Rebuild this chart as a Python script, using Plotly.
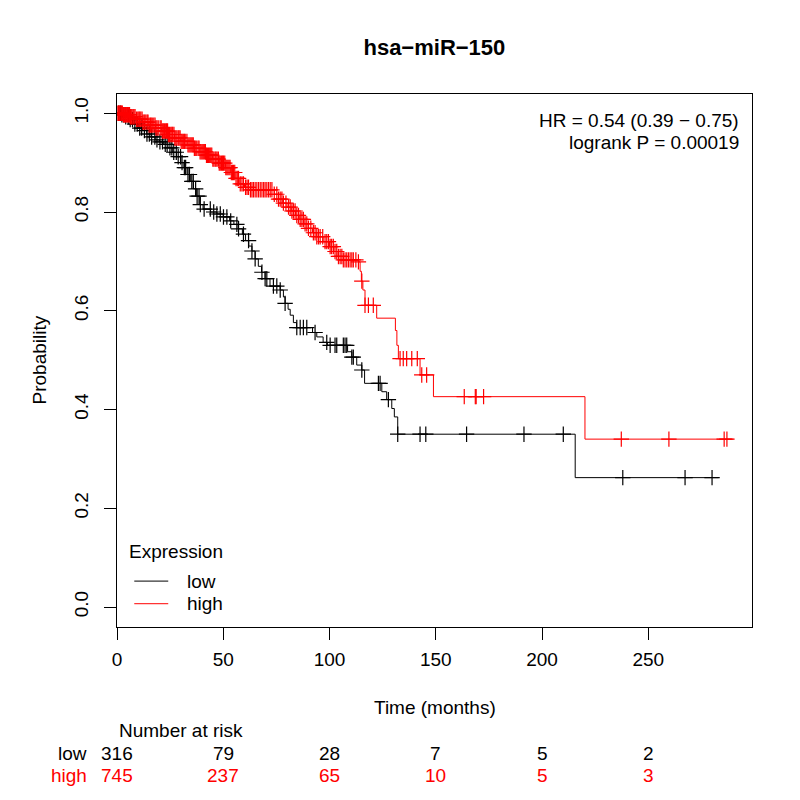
import numpy as np
import plotly.graph_objects as go

# ---------------- data ----------------
title_text = "hsa\u2212miR\u2212150"
groups = ["low", "high"]
colors = {"low": "black", "high": "red"}
legend_title = "Expression"

# step curve: event times (months) and survival after each step
low_times = [0, 2, 4, 6, 8, 10, 12, 14, 16, 18, 20, 22, 24, 26, 28, 30, 31.5, 33, 34.5, 36,
             37.5, 39, 40.5, 44, 47, 50, 53, 55, 57, 59, 60.5, 62, 63.5, 65, 66.5, 68, 69.7,
             72, 76.8, 78.3, 79.1, 80.5, 81.5, 83, 84.5, 92, 94, 97, 99, 108.5, 110.5, 112.8,
             115.2, 116.5, 124.6, 126.9, 129.3, 130.5, 132.1, 215.6]
low_surv = [1.0, 0.997, 0.993, 0.987, 0.978, 0.970, 0.965, 0.958, 0.952, 0.946, 0.942, 0.937,
            0.930, 0.921, 0.912, 0.900, 0.890, 0.876, 0.862, 0.847, 0.832, 0.815, 0.806, 0.800,
            0.796, 0.790, 0.782, 0.775, 0.766, 0.755, 0.742, 0.731, 0.721, 0.705, 0.690, 0.678,
            0.665, 0.650, 0.642, 0.628, 0.615, 0.603, 0.591, 0.576, 0.566, 0.556, 0.547, 0.536,
            0.530, 0.517, 0.506, 0.490, 0.480, 0.453, 0.436, 0.420, 0.402, 0.385, 0.350, 0.262]
low_end = 283.0
low_censor = [0.8, 1.6, 2.3, 3.2, 4.1, 5.3, 6.2, 7.3, 8.4, 9.5, 10.7, 11.6, 12.9, 14.1, 15.2,
              16.3, 17.8, 18.8, 20.2, 21.4, 22.7, 23.6, 24.9, 25.8, 26.7, 27.9, 28.8, 29.9,
              30.6, 31.7, 32.3, 33.4, 34.1, 35.2, 35.9, 37.0, 37.7, 38.6, 39.2, 41.0, 43.9,
              45.5, 47.0, 48.6, 50.1, 51.7, 53.5, 56.4, 57.2, 59.5, 61.9, 63.5, 65.0, 68.2,
              69.7, 70.5, 73.6, 75.2, 76.8, 79.1, 84.6, 86.2, 87.7, 89.3, 93.2, 98.7, 100.3,
              102.6, 103.4, 106.5, 107.3, 108.1, 110.5, 111.2, 115.2, 123.0, 123.8, 127.7,
              132.1, 142.6, 145.3, 164.5, 191.5, 210.0, 238.0, 267.3, 280.0]

high_times = [0, 3, 6, 9, 12, 15, 18, 21, 24, 27, 30, 33, 36, 39, 42, 45, 48, 51, 53.5, 55.5,
              57.5, 60, 62.7, 74, 76, 78, 80, 82, 84, 86, 88, 90, 92, 94, 97, 100, 102, 104,
              106.5, 113.6, 114.4, 115, 115.7, 116.7, 122.2, 131, 131.7, 132.4, 142.6, 148.9,
              220.2]
high_surv = [1.0, 0.997, 0.993, 0.988, 0.982, 0.976, 0.970, 0.964, 0.957, 0.950, 0.943, 0.936,
             0.929, 0.922, 0.915, 0.907, 0.899, 0.890, 0.880, 0.868, 0.857, 0.850, 0.845, 0.836,
             0.826, 0.818, 0.810, 0.802, 0.793, 0.785, 0.776, 0.767, 0.758, 0.750, 0.740, 0.730,
             0.720, 0.710, 0.703, 0.699, 0.680, 0.660, 0.642, 0.611, 0.585, 0.560, 0.530, 0.503,
             0.470, 0.426, 0.340]
high_end = 290.0
high_censor = [0.4, 0.8, 1.1, 1.5, 1.9, 2.2, 2.5, 3.0, 3.4, 3.7, 4.0, 4.4, 4.9, 5.2, 5.5, 5.9,
               6.3, 6.7, 7.1, 7.6, 8.0, 8.5, 9.2, 9.8, 10.3, 10.7, 11.2, 11.8, 12.2, 12.7, 13.1,
               13.6, 14.2, 14.6, 15.1, 15.7, 16.1, 16.6, 17.3, 17.9, 18.3, 18.8, 19.4, 20.3,
               20.8, 21.3, 21.8, 22.3, 22.9, 23.3, 23.8, 24.2, 24.7, 25.3, 25.8, 26.2, 26.8,
               27.2, 27.7, 28.2, 28.8, 29.2, 29.7, 30.2, 30.7, 31.2, 31.7, 32.1, 32.9, 33.4,
               33.9, 34.4, 34.9, 35.4, 35.9, 36.4, 36.8, 37.3, 38.1, 38.6, 39.1, 39.6, 40.1,
               40.6, 41.1, 41.6, 42.1, 42.6, 43.1, 43.6, 44.1, 44.6, 45.1, 45.6, 46.2, 46.6,
               47.1, 47.7, 48.1, 48.6, 49.2, 49.7, 50.1, 50.7, 51.2, 51.7, 52.2, 52.7, 53.2,
               53.8, 54.3, 54.8, 55.4, 56.0, 56.6, 57.2, 58.0, 58.8, 59.5, 60.5, 61.2, 61.9,
               62.8, 63.5, 64.2, 65.0, 65.8, 66.6, 67.4, 68.2, 69.0, 69.7, 70.5, 71.3, 72.1,
               72.9, 74.0, 75.2, 76.0, 76.8, 77.6, 78.3, 79.5, 80.7, 81.5, 82.3, 83.0, 83.8,
               84.6, 85.4, 86.2, 87.0, 87.7, 88.5, 89.3, 90.1, 91.2, 92.4, 93.2, 94.0, 94.8,
               95.6, 96.8, 97.9, 98.7, 99.5, 100.3, 101.0, 101.8, 102.6, 103.4, 104.2, 105.0,
               105.8, 106.5, 107.3, 108.1, 108.9, 109.7, 110.5, 111.2, 112.4, 113.6, 115.2,
               116.7, 118.3, 120.6, 133.2, 134.7, 136.3, 138.7, 141.3, 143.4, 145.7, 163.4,
               168.6, 169.0, 172.5, 237.3, 259.7, 285.7, 287.0]

risk_times = [0, 50, 100, 150, 200, 250]
risk_low = [316, 79, 28, 7, 5, 2]
risk_high = [745, 237, 65, 10, 5, 3]

hr_text = "HR = 0.54 (0.39 \u2212 0.75)"
p_text = "logrank P = 0.00019"

# ---------------- figure ----------------
FONT = "Liberation Sans, Arial, Helvetica, sans-serif"
fig = go.Figure()

series = {
    "low": (low_times, low_surv, low_end, low_censor),
    "high": (high_times, high_surv, high_end, high_censor),
}

for g in groups:
    times, surv, end, cens = series[g]
    xs = list(times) + [end]
    ys = list(surv) + [surv[-1]]
    fig.add_trace(go.Scatter(x=xs, y=ys, mode="lines", line=dict(color=colors[g], width=1, shape="hv"),
                             name=g, showlegend=False, hoverinfo="skip"))
    t_arr = np.array(times)
    s_arr = np.array(surv)
    c_arr = np.array(cens)
    idx = np.searchsorted(t_arr, c_arr, side="right") - 1
    fig.add_trace(go.Scatter(x=c_arr, y=s_arr[idx], mode="markers",
                             marker=dict(symbol="cross-thin", size=11,
                                         line=dict(color=colors[g], width=1.2), color=colors[g]),
                             showlegend=False, hoverinfo="skip"))

annotations = []
shapes = []
# HR text
annotations.append(dict(xref="paper", yref="paper", x=1, y=1, xshift=-11, yshift=-26,
                        xanchor="right", yanchor="middle", text=hr_text, showarrow=False,
                        font=dict(size=19, color="black", family=FONT)))
annotations.append(dict(xref="paper", yref="paper", x=1, y=1, xshift=-11, yshift=-48,
                        xanchor="right", yanchor="middle", text=p_text, showarrow=False,
                        font=dict(size=19, color="black", family=FONT)))
# axis titles
annotations.append(dict(xref="paper", yref="paper", x=0.5, y=0, yshift=-80,
                        xanchor="center", yanchor="middle", text="Time (months)", showarrow=False,
                        font=dict(size=19, color="black", family=FONT)))
annotations.append(dict(xref="paper", yref="paper", x=0, y=0.5, xshift=-78,
                        xanchor="center", yanchor="middle", text="Probability", showarrow=False,
                        textangle=-90, font=dict(size=19, color="black", family=FONT)))
# legend (drawn in the corner of the plot area)
annotations.append(dict(xref="paper", yref="paper", x=0.0162, y=0.1418, xanchor="left",
                        yanchor="middle", text=legend_title, showarrow=False,
                        font=dict(size=19, color="black", family=FONT)))
for g, ly in zip(groups, (0.0861, 0.0437)):
    shapes.append(dict(type="line", xref="paper", yref="paper", x0=0.0272, x1=0.0807, y0=ly, y1=ly,
                       line=dict(color=colors[g], width=1)))
    annotations.append(dict(xref="paper", yref="paper", x=0.1075, y=ly, xanchor="left",
                            yanchor="middle", text=g, showarrow=False,
                            font=dict(size=19, color="black", family=FONT)))
# number at risk
annotations.append(dict(xref="x", yref="paper", x=risk_times[0], y=0, yshift=-103,
                        xanchor="left", yanchor="middle", text="Number at risk", showarrow=False,
                        font=dict(size=19, color="black", family=FONT)))
for lab, vals, yshift in (("low", risk_low, -126), ("high", risk_high, -148)):
    annotations.append(dict(xref="paper", yref="paper", x=0, y=0, xshift=-28, yshift=yshift,
                            xanchor="right", yanchor="middle", text=lab, showarrow=False,
                            font=dict(size=19, color=colors[lab], family=FONT)))
    for t, v in zip(risk_times, vals):
        annotations.append(dict(xref="x", yref="paper", x=t, y=0, yshift=yshift,
                                xanchor="center", yanchor="middle", text=str(v), showarrow=False,
                                font=dict(size=19, color=colors[lab], family=FONT)))

fig.update_layout(
    width=800, height=800, autosize=False,
    paper_bgcolor="white", plot_bgcolor="white",
    margin=dict(l=109, r=56, t=86, b=181, pad=0),
    font=dict(family=FONT, size=19, color="black"),
    title=dict(text="<b>" + title_text + "</b>", x=0.533, xanchor="center", y=1 - 39 / 800,
               yanchor="middle", yref="container", font=dict(size=22, family=FONT, color="black")),
    xaxis=dict(range=[0, 298.8], tickvals=[0, 50, 100, 150, 200, 250], ticks="outside", ticklen=12,
               tickwidth=1, tickcolor="black", showline=True, linecolor="black", linewidth=1,
               mirror=True, showgrid=False, zeroline=False, tickfont=dict(size=19),
               ticklabelstandoff=3),
    yaxis=dict(range=[-0.0405, 1.039], tickvals=[0, 0.2, 0.4, 0.6, 0.8, 1.0], tickformat=".1f",
               ticks="outside", ticklen=12, tickwidth=1, tickcolor="black", showline=True,
               linecolor="black", linewidth=1, mirror=True, showgrid=False, zeroline=False,
               tickangle=-90, tickfont=dict(size=19), ticklabelstandoff=8),
    shapes=shapes,
    annotations=annotations,
    showlegend=False,
)

fig.write_html("out.html")
